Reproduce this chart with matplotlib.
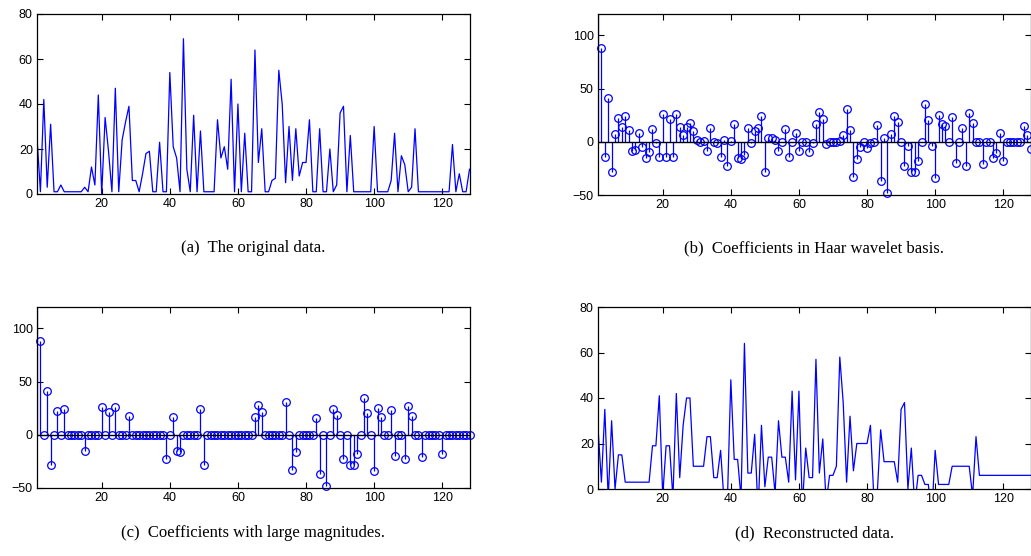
import matplotlib
matplotlib.use("Agg")
import numpy as np
import matplotlib.pyplot as plt

plt.rcParams["font.family"] = ["Liberation Sans", "DejaVu Sans"]

# ---- data -------------------------------------------------------------
n = np.arange(1, 129)

original = [25, 1, 42, 3, 31, 1, 1, 4, 1, 1, 1, 1, 1, 1, 3, 1,
            12, 4, 44, 0, 34, 19, 1, 47, 1, 24, 32, 39, 6, 6, 1, 9,
            18, 19, 1, 1, 23, 1, 1, 54, 21, 16, 1, 69, 11, 1, 35, 1,
            28, 1, 1, 1, 1, 33, 16, 21, 11, 51, 1, 40, 1, 27, 1, 1,
            64, 14, 29, 1, 1, 6, 7, 55, 40, 5, 30, 6, 29, 8, 14, 14,
            33, 1, 1, 29, 1, 1, 20, 1, 4, 36, 39, 1, 26, 1, 1, 1,
            1, 1, 1, 30, 1, 1, 1, 1, 6, 27, 1, 17, 13, 1, 3, 29,
            1, 1, 1, 1, 1, 1, 1, 1, 1, 1, 22, 1, 9, 1, 1, 11]

# first coefficient lies above the visible range
haar_coeffs = [143, 88, -14, 41, -28, 7, 22, 14, 24, 11, -9, -8, 8, -5, -15, -10,
               12, -1, -14, 26, -14, 21, -14, 26, 14, 6, 14, 18, 10, 2, 0, 1,
               -9, 13, 0, -1, -14, 2, -23, 1, 17, -15, -16, -12, 13, -1, 10, 13,
               24, -28, 4, 4, 2, -9, 0, 12, -14, 0, 8, -9, 0, 0, -10, -1,
               17, 28, 21, -2, 0, 0, 0, 1, 6, 31, 11, -33, -16, -5, 0, -6,
               -1, 0, 16, -37, 4, -48, 7, 24, 19, 0, -23, -4, -28, -28, -18, 0,
               35, 20, -4, -34, 25, 17, 15, 0, 23, -20, 0, 13, -23, 27, 18, 0,
               0, -21, 0, 0, -15, -11, 8, -18, 0, 0, 0, 0, 0, 15, 6, -7]

# coefficients kept after thresholding (index -> value); all others are zero
kept_idx = [1, 2, 4, 5, 7, 9, 15, 20, 22, 24, 28, 39, 41, 42, 43, 49, 50,
            65, 66, 67, 74, 76, 77, 83, 84, 86, 88, 89, 91, 93, 94, 95, 97,
            98, 100, 101, 102, 105, 106, 109, 110, 111, 114, 120]
kept_val = [143, 88, 41, -28, 22, 24, -15, 26, 21, 26, 18, -23, 17, -15, -16, 24, -28,
            17, 28, 21, 31, -33, -16, 16, -37, -48, 24, 19, -23, -28, -28, -18, 35,
            20, -34, 25, 17, 23, -20, -23, 27, 18, -21, -18]

reconstructed = [27, 3, 35, -4, 30, 0, 15, 15, 3, 3, 3, 3, 3, 3, 3, 3,
                 19, 19, 41, -3, 19, 19, -4, 42, 5, 28, 40, 40, 10, 10, 10, 10,
                 23, 23, 5, 5, 17, -5, -5, 48, 13, 13, -4, 64, 7, 7, 24, -10,
                 28, 1, 14, 14, -2, 30, 14, 14, 3, 43, 4, 43, -8, 18, 5, 5,
                 57, 7, 22, -6, 6, 6, 10, 58, 38, 3, 32, 8, 20, 20, 20, 20,
                 28, -4, -2, 26, 12, 12, 12, 12, 3, 35, 38, 0, 18, -7, 6, 6,
                 2, 2, -12, 17, 2, 2, 2, 2, 10, 10, 10, 10, 10, 10, -3, 23,
                 6, 6, 6, 6, 6, 6, 6, 6, 6, 6, 6, 6, 6, 6, 6, 6]

captions = ["(a)  The original data.",
            "(b)  Coefficients in Haar wavelet basis.",
            "(c)  Coefficients with large magnitudes.",
            "(d)  Reconstructed data."]
xticks = [20, 40, 60, 80, 100, 120]

# ---- layout -------------------------------------------------------------
W, H = 1031, 556
fig = plt.figure(figsize=(W / 100, H / 100), dpi=100)
blue = "#0000ff"


def make_axes(left, top, right, bottom):
    ax = fig.add_axes([left / W, 1 - bottom / H, (right - left) / W, (bottom - top) / H])
    ax.set_xlim(1, 128)
    ax.set_xticks(xticks)
    ax.tick_params(direction="in", length=4, width=0.8, top=True, right=True,
                   labelsize=9, pad=3, colors="black")
    for s in ax.spines.values():
        s.set_linewidth(0.9)
    return ax


def draw_stem(ax, x, y, ylim):
    ml, sl, bl = ax.stem(x, y, linefmt="b-", markerfmt="bo", basefmt="k-")
    sl.set_linewidth(0.9)
    sl.set_color(blue)
    ml.set_markerfacecolor("none")
    ml.set_markeredgecolor(blue)
    ml.set_markersize(5.5)
    ml.set_markeredgewidth(0.9)
    y = np.asarray(y, dtype=float)
    inside = np.flatnonzero((y >= ylim[0]) & (y <= ylim[1]))
    ml.set_markevery(list(inside))
    ml.set_clip_on(False)
    bl.set_linewidth(1.0)
    bl.set_color("black")
    ax.set_ylim(*ylim)


ax_a = make_axes(37, 14, 469.5, 194)
ax_a.plot(n, original, color=blue, lw=0.9)
ax_a.set_ylim(0, 80)
ax_a.set_yticks([0, 20, 40, 60, 80])

ax_b = make_axes(598, 14, 1030.5, 195)
draw_stem(ax_b, n, haar_coeffs, (-50, 120))
ax_b.set_yticks([-50, 0, 50, 100])

large = np.zeros(128)
large[np.asarray(kept_idx) - 1] = kept_val
ax_c = make_axes(37, 307, 469.5, 488)
draw_stem(ax_c, n, large, (-50, 120))
ax_c.set_yticks([-50, 0, 50, 100])

ax_d = make_axes(598, 307, 1030.5, 489)
ax_d.plot(n, reconstructed, color=blue, lw=0.9)
ax_d.set_ylim(0, 80)
ax_d.set_yticks([0, 20, 40, 60, 80])

for ax, cap, y in zip([ax_a, ax_b, ax_c, ax_d], captions, [248, 248, 533, 533]):
    pos = ax.get_position()
    fig.text(pos.x0 + pos.width / 2, 1 - y / H, cap, ha="center", va="center",
             fontsize=12, family=["Liberation Serif", "DejaVu Serif"])

fig.savefig("out.png", dpi=100)
